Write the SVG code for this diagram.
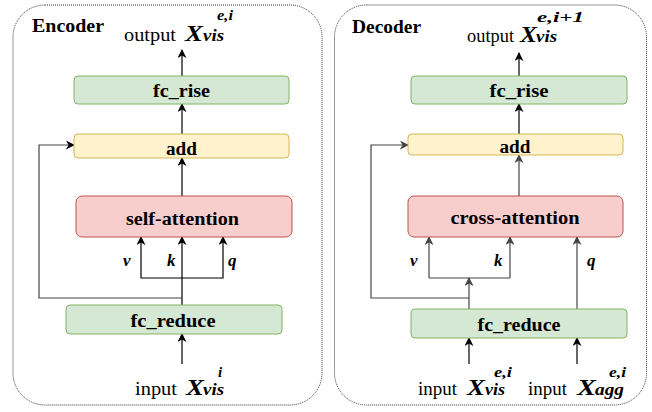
<svg xmlns="http://www.w3.org/2000/svg" width="652" height="412" viewBox="0 0 652 412" font-family="'Liberation Serif', 'Times New Roman', serif">
<defs>
<style>
.cont{fill:#fff;stroke:#333;stroke-width:1;stroke-dasharray:1 1}
.title{font-size:18px;font-weight:bold}
.lbl{font-size:18px;font-weight:bold;text-anchor:middle}
.plain{font-size:18px}
.bx{font-size:23px;font-weight:bold;font-style:italic}
.sub{font-size:16px;font-weight:bold;font-style:italic}
.sup{font-size:15px;font-weight:bold;font-style:italic}
.vkq{font-size:17px;font-weight:bold;font-style:italic}
.green{fill:#d5e8d4;stroke:#82b366}
.yellow{fill:#fff2cc;stroke:#d6b656}
.red{fill:#f8cecc;stroke:#b85450}
.ln{fill:none;stroke:#000;stroke-width:1.2}
.lg{fill:none;stroke:#444;stroke-width:1.2}
</style>
<marker id="ah" viewBox="0 0 10 10" refX="9" refY="5" markerWidth="9" markerHeight="9" orient="auto" markerUnits="userSpaceOnUse">
<path d="M0,0 L10,5 L0,10 L3,5 Z" fill="#000"/>
</marker>
<marker id="ahg" viewBox="0 0 10 10" refX="9" refY="5" markerWidth="9" markerHeight="9" orient="auto" markerUnits="userSpaceOnUse">
<path d="M0,0 L10,5 L0,10 L3,5 Z" fill="#444"/>
</marker>
</defs>
<rect width="652" height="412" fill="#fff"/>

<g id="encoder">
<rect class="cont" x="13" y="5" width="309" height="400" rx="32" ry="32"/>
<text class="title" x="32" y="32" textLength="72" lengthAdjust="spacingAndGlyphs">Encoder</text>
</g>
<g id="decoder">
<rect class="cont" x="334.5" y="5" width="312" height="400" rx="32" ry="32"/>
<text class="title" x="352" y="33" textLength="69" lengthAdjust="spacingAndGlyphs">Decoder</text>
</g>

<g id="connectors">
<path class="ln" d="M182,76 V50" marker-end="url(#ah)"/>
<path class="ln" d="M182,134 V104" marker-end="url(#ah)"/>
<path class="ln" d="M182,196 V158" marker-end="url(#ah)"/>
<path class="ln" d="M182,305 V237" marker-end="url(#ah)"/>
<path class="ln" d="M182,278 H141 V237" marker-end="url(#ah)"/>
<path class="ln" d="M182,278 H223 V237" marker-end="url(#ah)"/>
<path class="lg" d="M182,298 H39 V145 H74" marker-end="url(#ah)"/>
<path class="ln" d="M182,364 V334" marker-end="url(#ah)"/>

<path class="ln" d="M519,76 V53" marker-end="url(#ah)"/>
<path class="ln" d="M519,134 V104" marker-end="url(#ah)"/>
<path class="lg" d="M519,196 V155" marker-end="url(#ahg)"/>
<path class="lg" d="M469,309 V278" marker-end="url(#ahg)"/>
<path class="lg" d="M429,278 H510"/>
<path class="lg" d="M429,278 V237" marker-end="url(#ahg)"/>
<path class="lg" d="M510,278 V237" marker-end="url(#ahg)"/>
<path class="lg" d="M469,298 H371 V145 H408" marker-end="url(#ahg)"/>
<path class="lg" d="M577,309 V237" marker-end="url(#ahg)"/>
<path class="ln" d="M469,364 V338" marker-end="url(#ah)"/>
<path class="ln" d="M577,364 V338" marker-end="url(#ah)"/>
</g>

<g id="enc-output">
<text class="plain" x="124" y="41" textLength="52" lengthAdjust="spacingAndGlyphs">output</text>
<text class="bx" x="185" y="41" textLength="18" lengthAdjust="spacingAndGlyphs">X</text>
<text class="sub" x="203" y="41" textLength="21" lengthAdjust="spacingAndGlyphs">vis</text>
<text class="sup" x="217" y="20" textLength="16" lengthAdjust="spacingAndGlyphs">e,i</text>
</g>
<g id="enc-fc_rise">
<rect class="green" x="74" y="76" width="215" height="28" rx="4"/>
<text class="lbl" x="181.5" y="97" textLength="57" lengthAdjust="spacingAndGlyphs">fc_rise</text>
</g>
<g id="enc-add">
<rect class="yellow" x="74" y="134" width="215" height="24" rx="4"/>
<text class="lbl" x="181.5" y="155" textLength="31" lengthAdjust="spacingAndGlyphs">add</text>
</g>
<g id="enc-self-attention">
<rect class="red" x="76" y="196" width="216" height="41" rx="6"/>
<text class="lbl" x="182.5" y="225" textLength="113" lengthAdjust="spacingAndGlyphs">self-attention</text>
</g>
<g id="enc-vkq">
<text class="vkq" x="123" y="266">v</text>
<text class="vkq" x="167" y="266">k</text>
<text class="vkq" x="228" y="266">q</text>
</g>
<g id="enc-fc_reduce">
<rect class="green" x="66" y="305" width="216" height="29" rx="4"/>
<text class="lbl" x="173" y="327" textLength="85" lengthAdjust="spacingAndGlyphs">fc_reduce</text>
</g>
<g id="enc-input">
<text class="plain" x="135" y="395" textLength="42" lengthAdjust="spacingAndGlyphs">input</text>
<text class="bx" x="186" y="395" textLength="18" lengthAdjust="spacingAndGlyphs">X</text>
<text class="sub" x="203" y="395" textLength="21" lengthAdjust="spacingAndGlyphs">vis</text>
<text class="sup" x="218" y="377">i</text>
</g>

<g id="dec-output">
<text class="plain" x="467" y="42" textLength="47" lengthAdjust="spacingAndGlyphs">output</text>
<text class="bx" x="520" y="42" textLength="17" lengthAdjust="spacingAndGlyphs">X</text>
<text class="sub" x="536" y="42" textLength="21" lengthAdjust="spacingAndGlyphs">vis</text>
<text class="sup" x="537" y="22" textLength="47" lengthAdjust="spacingAndGlyphs">e,i+1</text>
</g>
<g id="dec-fc_rise">
<rect class="green" x="411" y="76" width="216" height="28" rx="4"/>
<text class="lbl" x="519" y="97" textLength="59" lengthAdjust="spacingAndGlyphs">fc_rise</text>
</g>
<g id="dec-add">
<rect class="yellow" x="408" y="134" width="215" height="21" rx="4"/>
<text class="lbl" x="515" y="153" textLength="31" lengthAdjust="spacingAndGlyphs">add</text>
</g>
<g id="dec-cross-attention">
<rect class="red" x="408" y="196" width="215" height="41" rx="6"/>
<text class="lbl" x="515" y="224" textLength="129" lengthAdjust="spacingAndGlyphs">cross-attention</text>
</g>
<g id="dec-vkq">
<text class="vkq" x="410" y="266">v</text>
<text class="vkq" x="494" y="266">k</text>
<text class="vkq" x="587" y="266">q</text>
</g>
<g id="dec-fc_reduce">
<rect class="green" x="411" y="309" width="216" height="29" rx="4"/>
<text class="lbl" x="519" y="331" textLength="83" lengthAdjust="spacingAndGlyphs">fc_reduce</text>
</g>
<g id="dec-input-vis">
<text class="plain" x="418" y="395" textLength="39" lengthAdjust="spacingAndGlyphs">input</text>
<text class="bx" x="467" y="395" textLength="18" lengthAdjust="spacingAndGlyphs">X</text>
<text class="sub" x="485" y="395" textLength="20" lengthAdjust="spacingAndGlyphs">vis</text>
<text class="sup" x="494" y="377" textLength="18" lengthAdjust="spacingAndGlyphs">e,i</text>
</g>
<g id="dec-input-agg">
<text class="plain" x="528" y="395" textLength="39" lengthAdjust="spacingAndGlyphs">input</text>
<text class="bx" x="577" y="395" textLength="19" lengthAdjust="spacingAndGlyphs">X</text>
<text class="sub" x="595" y="395" textLength="29" lengthAdjust="spacingAndGlyphs">agg</text>
<text class="sup" x="609" y="377" textLength="17" lengthAdjust="spacingAndGlyphs">e,i</text>
</g>
</svg>
